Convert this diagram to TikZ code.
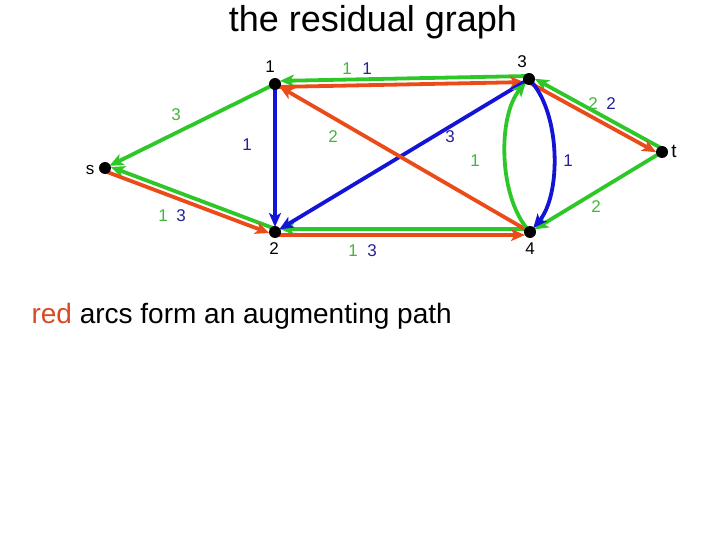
\documentclass[tikz,border=0pt]{standalone}
\usepackage{fontspec}
\setmainfont{Liberation Sans}
\usetikzlibrary{calc,arrows.meta,backgrounds}
\definecolor{gr}{RGB}{45,200,40}
\definecolor{rd}{RGB}{235,75,25}
\definecolor{bl}{RGB}{20,20,215}
\definecolor{grl}{RGB}{70,180,60}
\definecolor{bll}{RGB}{35,35,150}
\definecolor{rdt}{RGB}{215,75,35}
% arrow P->Q offset to its right side by #4
\newcommand\myarr[4]{\draw[#1] ($(#2.center)!#4!-90:(#3.center)$) -- ($(#3.center)!#4!90:(#2.center)$);}
\begin{document}
\begin{tikzpicture}[x=1pt,y=-1pt,
  dot/.style={circle,fill=black,inner sep=0pt,minimum size=12pt},
  vlab/.style={font=\fontsize{17}{19}\selectfont},
  elab/.style={font=\fontsize{17}{19}\selectfont},
  arc/.style={line width=3.8pt,shorten >=5pt,shorten <=3pt,
    -{Stealth[length=14pt,width=12pt,inset=3.5pt]}}]
\useasboundingbox (0,0) rectangle (720,540);
% vertices
\node[dot] (s) at (105,168) {};
\node[dot] (n1) at (275,84) {};
\node[dot] (n3) at (529,79) {};
\node[dot] (t) at (662,152) {};
\node[dot] (n2) at (275,232) {};
\node[dot] (n4) at (530,232) {};
\node[vlab] (ls) at (90,170) {s};
\node[vlab] (l1) at (270,67) {1};
\node[vlab] (l3) at (522,62) {3};
\node[vlab,font=\fontsize{19}{21}\selectfont] (lt) at (674,151) {t};
\node[vlab] (l2) at (274,249) {2};
\node[vlab] (l4) at (530,249) {4};
% edges
\begin{scope}[on background layer]
  \draw[arc,gr] (n1.center) -- (s.center);
  \myarr{arc,gr}{n2}{s}{3pt}
  \myarr{arc,rd}{s}{n2}{3pt}
  \myarr{arc,gr}{n3}{n1}{3pt}
  \myarr{arc,rd}{n1}{n3}{3pt}
  \myarr{arc,gr}{n4}{n2}{3pt}
  \myarr{arc,rd}{n2}{n4}{3pt}
  \myarr{arc,gr}{t}{n3}{3pt}
  \myarr{arc,rd}{n3}{t}{3pt}
  \draw[arc,gr] (t.center) -- (n4.center);
  \draw[arc,bl] (n1.center) -- (n2.center);
  \draw[arc,bl] (n3.center) -- (n2.center);
  \draw[arc,rd] (n4.center) -- (n1.center);
  \draw[arc,gr] (n4.center) .. controls (498,195) and (498,115) .. (n3.center);
  \draw[arc,bl] (n3.center) .. controls (561,115) and (561,195) .. (n4.center);
\end{scope}
% edge labels
\node[elab,text=grl] (e13a) at (347,69) {1};
\node[elab,text=bll] (e13b) at (367,69) {1};
\node[elab,text=grl] (es1) at (176,115) {3};
\node[elab,text=bll] (e12) at (247,145) {1};
\node[elab,text=grl] (e14) at (333,137) {2};
\node[elab,text=bll] (e32) at (450,137) {3};
\node[elab,text=grl] (es2a) at (163,216) {1};
\node[elab,text=bll] (es2b) at (181,216) {3};
\node[elab,text=grl] (e3ta) at (593,104) {2};
\node[elab,text=bll] (e3tb) at (611,104) {2};
\node[elab,text=grl] (e34a) at (475,161) {1};
\node[elab,text=bll] (e34b) at (568,161) {1};
\node[elab,text=grl] (e4t) at (596,207) {2};
\node[elab,text=grl] (e24a) at (353,251) {1};
\node[elab,text=bll] (e24b) at (372,251) {3};
% texts
\node[font=\fontsize{36}{42}\selectfont] (title) at (373,22) {the residual graph};
\node[font=\fontsize{28}{32}\selectfont,anchor=west] (cap) at (28,316) {\textcolor{rdt}{red} arcs form an augmenting path};
\end{tikzpicture}
\end{document}
